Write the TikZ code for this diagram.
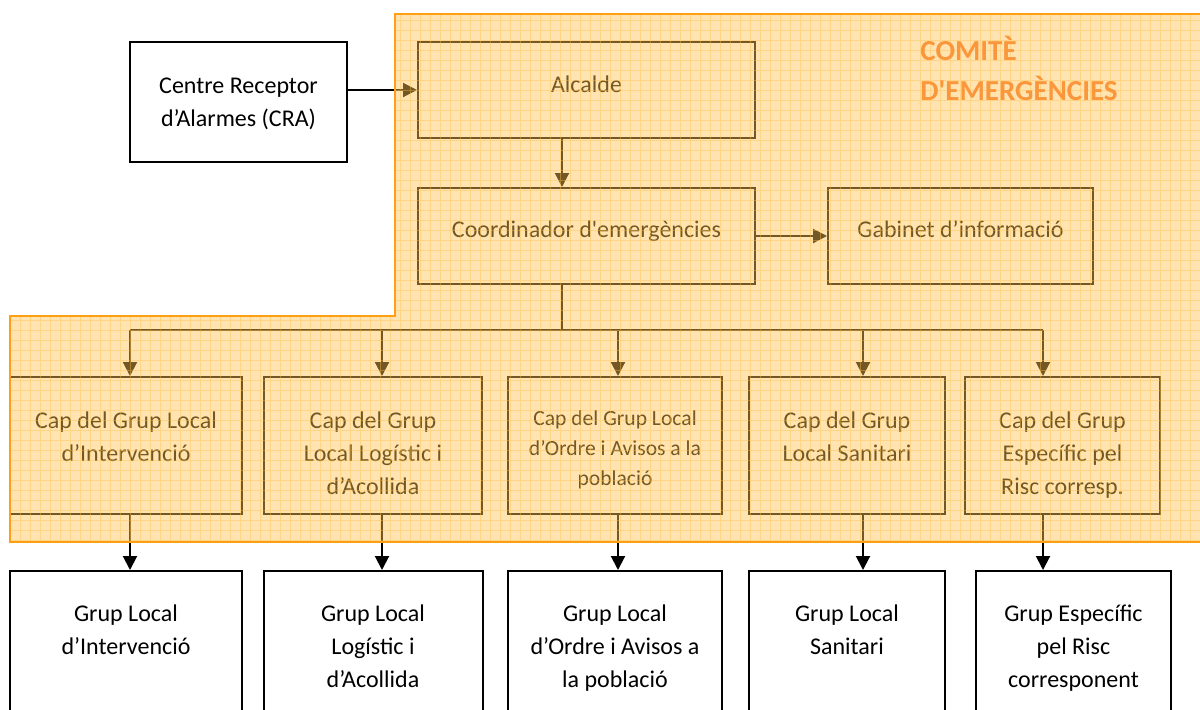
\documentclass[tikz,border=0pt]{standalone}
\usepackage{fontspec}
\setmainfont{Carlito}
\usetikzlibrary{arrows.meta,positioning}
\definecolor{comite}{RGB}{255,195,80}
\definecolor{comitegrid}{RGB}{255,190,70}
\definecolor{comiteline}{RGB}{255,160,20}
\definecolor{comitetext}{RGB}{250,150,60}

\begin{document}
\begin{tikzpicture}[x=0.5pt,y=-0.5pt,
  box/.style={draw,line width=1pt,minimum height=48pt,inner sep=0pt},
  capbox/.style={box,minimum height=68.5pt},
  grupbox/.style={box,minimum height=73pt},
  txt/.style={anchor=north,align=center,inner sep=0pt,yshift=-13.45pt,font=\fontsize{12}{16.5}\selectfont,execute at begin node=\strut},
  mtxt/.style={txt,yshift=-4.4pt},
  smalltxt/.style={mtxt,font=\fontsize{10.8}{15}\selectfont,yshift=0.9pt},
  arr/.style={-{Triangle[length=7pt,width=7pt]},line width=1pt}]
\useasboundingbox (0,0) rectangle (1200,709);
\fill[white] (0,0) rectangle (1200,709);
\begin{scope}
\clip (0,0) rectangle (1200,709);
\node[box,minimum width=108.5pt,minimum height=60pt,label={[mtxt,yshift=-0.6pt]north:{Centre Receptor\\d’Alarmes (CRA)}}] (cra) at (238.5,102) {};
\node[box,minimum width=168.5pt,label={[txt,yshift=-0.5pt]north:Alcalde}] (alcalde) at (586.5,90) {};
\node[box,minimum width=168.5pt,label={[txt]north:{Coordinador d\textquotesingle emergències}}] (coord) [below=24pt of alcalde] {};
\node[box,minimum width=132.5pt,label={[txt]north:{Gabinet d’informació}}] (gabinet) [right=35.5pt of coord] {};

\node[capbox,minimum width=116pt,label={[mtxt]north:{Cap del Grup Local\\d’Intervenció}}] (cap1) at (126,445.5) {};
\node[capbox,minimum width=109pt,label={[mtxt]north:{Cap del Grup\\Local Logístic i\\d’Acollida}}] (cap2) [right=10pt of cap1] {};
\node[capbox,minimum width=107pt,label={[smalltxt]north:{Cap del Grup Local\\d’Ordre i Avisos a la\\població}}] (cap3) [right=12pt of cap2] {};
\node[capbox,minimum width=98pt,label={[mtxt]north:{Cap del Grup\\Local Sanitari}}] (cap4) [right=12.5pt of cap3] {};
\node[capbox,minimum width=97.5pt,label={[mtxt]north:{Cap del Grup\\Específic pel\\Risc corresp.}}] (cap5) [right=9pt of cap4] {};

\node[grupbox,minimum width=116pt,label={[mtxt,yshift=0.5pt]north:{Grup Local\\d’Intervenció}}] (grup1) [below=27.5pt of cap1] {};
\node[grupbox,minimum width=109.5pt,label={[mtxt,yshift=0.5pt]north:{Grup Local\\Logístic i\\d’Acollida}}] (grup2) [below=27.5pt of cap2] {};
\node[grupbox,minimum width=107pt,label={[mtxt,yshift=0.5pt]north:{Grup Local\\d’Ordre i Avisos a\\la població}}] (grup3) [below=27.5pt of cap3] {};
\node[grupbox,minimum width=98pt,label={[mtxt,yshift=0.5pt]north:{Grup Local\\Sanitari}}] (grup4) [below=27.5pt of cap4] {};
\node[grupbox,minimum width=97.5pt,label={[mtxt,yshift=0.5pt]north:{Grup Específic\\pel Risc\\corresponent}}] (grup5) [below=27.5pt of cap5,xshift=5.5pt] {};

\coordinate (split) at (562,330);
\coordinate (b1) at (130,330);
\coordinate (b2) at (382,330);
\coordinate (b3) at (618,330);
\coordinate (b4) at (863,330);
\coordinate (b5) at (1043,330);

\path[arr]
(cra.east |- alcalde.west) edge (alcalde.west)
(alcalde.south -| split) edge (coord.north -| split)
(coord) edge (gabinet)
;
\draw[line width=1pt] (coord.south -| split) -- (split);
\draw[line width=1pt] (b1) -- (b5);
\foreach \i in {1,...,5} {
  \draw[arr] (b\i) -- (b\i |- cap\i.north);
  \draw[arr] (b\i |- cap\i.south) -- (b\i |- grup\i.north);
}

% comite d'emergencies
\fill[comite,fill opacity=0.45] (395,14) -- (1203,14) -- (1203,542) -- (10,542) -- (10,316) -- (395,316) -- cycle;
\begin{scope}
\clip (395,14) -- (1203,14) -- (1203,542) -- (10,542) -- (10,316) -- (395,316) -- cycle;
\draw[comitegrid,opacity=0.4,line width=0.4pt,step=5pt] (0pt,-355pt) grid (605pt,0pt);
\end{scope}
\draw[comiteline,line width=1pt] (1203,14) -- (395,14) -- (395,316) -- (10,316) -- (10,542) -- (1203,542);
\node[anchor=north west,align=left,inner sep=0pt,text=comitetext,font=\bfseries\fontsize{14.5}{20}\selectfont,execute at begin node=\strut] (titol) at (920,35.5) {COMITÈ\\D\textquotesingle EMERGÈNCIES};
\end{scope}
\end{tikzpicture}
\end{document}
